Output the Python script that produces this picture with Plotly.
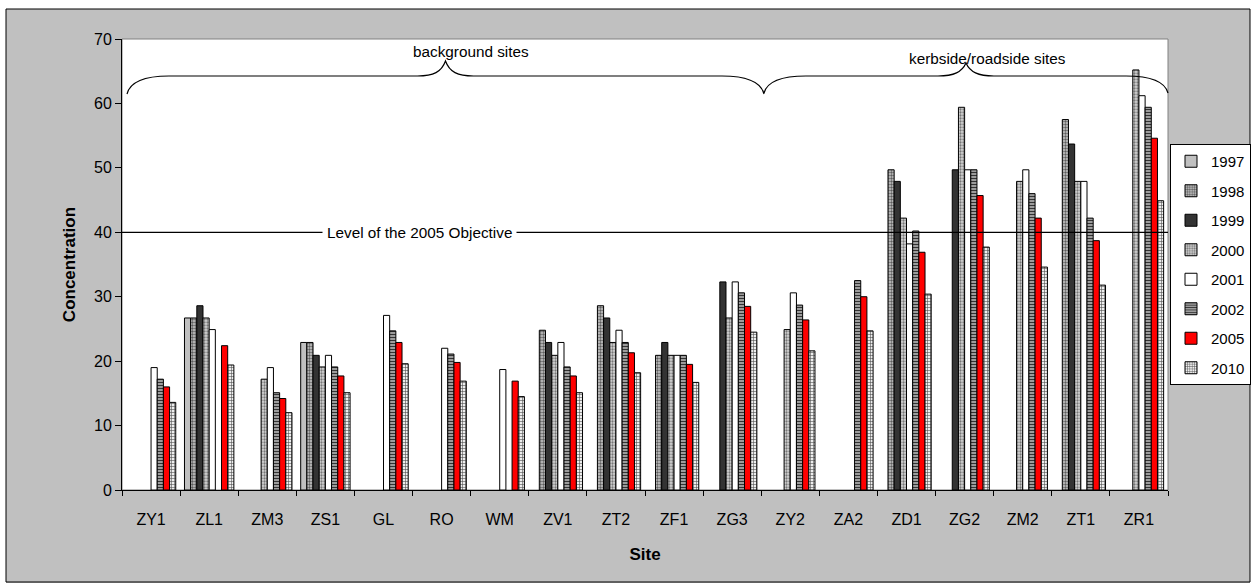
import plotly.graph_objects as go

# ---- data -------------------------------------------------------------
sites = ["ZY1", "ZL1", "ZM3", "ZS1", "GL", "RO", "WM", "ZV1", "ZT2",
         "ZF1", "ZG3", "ZY2", "ZA2", "ZD1", "ZG2", "ZM2", "ZT1", "ZR1"]
years = ["1997", "1998", "1999", "2000", "2001", "2002", "2005", "2010"]

N = None
c1997 = [N, 26.7, N, 22.9, N, N, N, N, N, N, N, N, N, N, N, N, N, N]
c1998 = [N, 26.7, N, 22.9, N, N, N, 24.8, 28.6, 20.9, N, N, N, 49.7, N, N, 57.5, N]
c1999 = [N, 28.6, N, 20.9, N, N, N, 22.9, 26.7, 22.9, 32.3, N, N, 47.9, 49.7, N, 53.7, N]
c2000 = [N, 26.7, 17.2, 19.1, N, N, N, 20.9, 22.9, 20.9, 26.7, 24.9, N, 42.2, 59.4, 47.9, 47.9, 65.2]
c2001 = [19.0, 24.9, 19.0, 20.9, 27.1, 22.0, 18.7, 22.9, 24.8, 20.9, 32.3, 30.6, N, 38.2, 49.7, 49.7, 47.9, 61.2]
c2002 = [17.2, N, 15.1, 19.1, 24.7, 21.1, N, 19.1, 22.9, 20.9, 30.6, 28.7, 32.5, 40.2, 49.7, 46.0, 42.2, 59.4]
c2005 = [16.0, 22.4, 14.2, 17.7, 22.9, 19.8, 16.9, 17.7, 21.3, 19.5, 28.5, 26.4, 30.0, 36.9, 45.7, 42.2, 38.7, 54.6]
c2010 = [13.6, 19.4, 12.0, 15.1, 19.6, 16.9, 14.5, 15.1, 18.2, 16.7, 24.5, 21.6, 24.7, 30.4, 37.7, 34.6, 31.8, 44.9]

series = [c1997, c1998, c1999, c2000, c2001, c2002, c2005, c2010]

objective_2005 = 40
objective_label = "Level of the 2005 Objective"
group_labels = ["background sites", "kerbside/roadside sites"]

# ---- styling ----------------------------------------------------------
FONT = "Arial, 'Liberation Sans', sans-serif"
styles = {
    "1997": dict(color="#C0C0C0"),
    "1998": dict(color="#A8A8A8", pattern=dict(shape=".", fgcolor="#5E5E5E",
                                               bgcolor="#CCCCCC", size=3, solidity=0.5,
                                               fillmode="replace")),
    "1999": dict(color="#333333"),
    "2000": dict(color="#BBBBBB", pattern=dict(shape=".", fgcolor="#777777",
                                               bgcolor="#D6D6D6", size=3, solidity=0.45,
                                               fillmode="replace")),
    "2001": dict(color="#FFFFFF"),
    "2002": dict(color="#808080", pattern=dict(shape="-", fgcolor="#333333",
                                               bgcolor="#BEBEBE", size=3, solidity=0.5,
                                               fillmode="replace")),
    "2005": dict(color="#FF0000"),
    "2010": dict(color="#C8C8C8", pattern=dict(shape="+", fgcolor="#505050",
                                               bgcolor="#EEEEEE", size=3, solidity=0.35,
                                               fillmode="replace")),
}

fig = go.Figure()
for yr, vals in zip(years, series):
    marker = dict(line=dict(color="#000000", width=1), **styles[yr])
    fig.add_trace(go.Bar(x=sites, y=vals, name=yr, marker=marker,
                         legendgroup=yr))

# ---- geometry helpers (pixel -> paper) ---------------------------------
W, H = 1253, 583
L, R, T, B = 122, 1168, 39, 490


def px(x):
    return (x - L) / (R - L)


def py(y):
    return (B - y) / (B - T)


shapes = []

# outer chart frame: white page edge and a black border round the grey area
for x0, y0, x1, y1 in [(0, 0, W, 9), (0, 0, 6, H), (1250, 0, W, H)]:
    shapes.append(dict(type="rect", xref="paper", yref="paper",
                       x0=px(x0), x1=px(x1), y0=py(y0), y1=py(y1),
                       fillcolor="#FFFFFF", line=dict(width=0), layer="below"))
shapes.append(dict(type="rect", xref="paper", yref="paper",
                   x0=px(6), x1=px(1250), y0=py(9), y1=py(582),
                   fillcolor="rgba(0,0,0,0)", line=dict(color="#000000", width=1),
                   layer="below"))

# grey plot-area border
shapes.append(dict(type="rect", xref="paper", yref="paper", x0=0, x1=1, y0=0, y1=1,
                   fillcolor="rgba(0,0,0,0)", line=dict(color="#808080", width=1),
                   layer="below"))

# 2005 objective line
shapes.append(dict(type="line", xref="paper", yref="y", x0=0, x1=1,
                   y0=objective_2005, y1=objective_2005,
                   line=dict(color="#000000", width=1.2), layer="above"))


def brace(x0, x1, xm, y_end, y_flat, y_tip):
    """Curly brace path (pixel coords) converted to paper coords."""
    def p(x, y):
        return f"{px(x):.5f},{py(y):.5f}"
    d = [f"M{p(x0, y_end)}",
         f"C{p(x0 + 3, y_flat + 6)} {p(x0 + 16, y_flat)} {p(x0 + 42, y_flat)}",
         f"L{p(xm - 28, y_flat)}",
         f"C{p(xm - 12, y_flat)} {p(xm - 4, y_flat - 4)} {p(xm, y_tip)}",
         f"C{p(xm + 4, y_flat - 4)} {p(xm + 12, y_flat)} {p(xm + 28, y_flat)}",
         f"L{p(x1 - 42, y_flat)}",
         f"C{p(x1 - 16, y_flat)} {p(x1 - 3, y_flat + 6)} {p(x1, y_end)}"]
    return dict(type="path", xref="paper", yref="paper", path=" ".join(d),
                line=dict(color="#000000", width=1.2), layer="above")


shapes.append(brace(127, 764, 445.5, 94, 76, 61))
shapes.append(brace(764, 1168, 966, 93, 76, 63))

annotations = [
    dict(xref="paper", yref="y", x=px(419), y=objective_2005, text=objective_label,
         showarrow=False, bgcolor="#FFFFFF", borderpad=4,
         xanchor="center", yanchor="middle",
         font=dict(family=FONT, size=15.3, color="#000000")),
    dict(xref="paper", yref="paper", x=px(471), y=py(52), text=group_labels[0],
         showarrow=False, xanchor="center", yanchor="middle",
         font=dict(family=FONT, size=15.3, color="#000000")),
    dict(xref="paper", yref="paper", x=px(987), y=py(59), text=group_labels[1],
         showarrow=False, xanchor="center", yanchor="middle",
         font=dict(family=FONT, size=15.3, color="#000000")),
]

fig.update_layout(
    width=W, height=H,
    margin=dict(l=L, r=W - R, t=T, b=H - B, pad=0, autoexpand=False),
    paper_bgcolor="#C0C0C0",
    plot_bgcolor="#FFFFFF",
    barmode="group",
    bargap=0.15,
    bargroupgap=0,
    font=dict(family=FONT, color="#000000", size=16),
    shapes=shapes,
    annotations=annotations,
    legend=dict(x=px(1170), y=py(144), xanchor="left", yanchor="top",
                bgcolor="#FFFFFF", bordercolor="#000000", borderwidth=1,
                font=dict(family=FONT, size=15), tracegroupgap=7,
                traceorder="grouped"),
    xaxis=dict(type="category", showline=True, linecolor="#000000", linewidth=1,
               ticks="outside", tickson="boundaries", ticklen=5, tickcolor="#000000",
               showgrid=False, ticklabelstandoff=15, automargin=False,
               tickfont=dict(size=16),
               title=dict(text="<b>Site</b>", standoff=20, font=dict(size=17))),
    yaxis=dict(range=[0, 70], dtick=10, showline=True, linecolor="#000000",
               linewidth=1, ticks="outside", ticklen=6, tickcolor="#000000",
               showgrid=False, zeroline=False, automargin=False,
               tickfont=dict(size=16),
               title=dict(text="<b>Concentration</b>", standoff=14,
                          font=dict(size=17))),
)

fig.write_html("out.html")
